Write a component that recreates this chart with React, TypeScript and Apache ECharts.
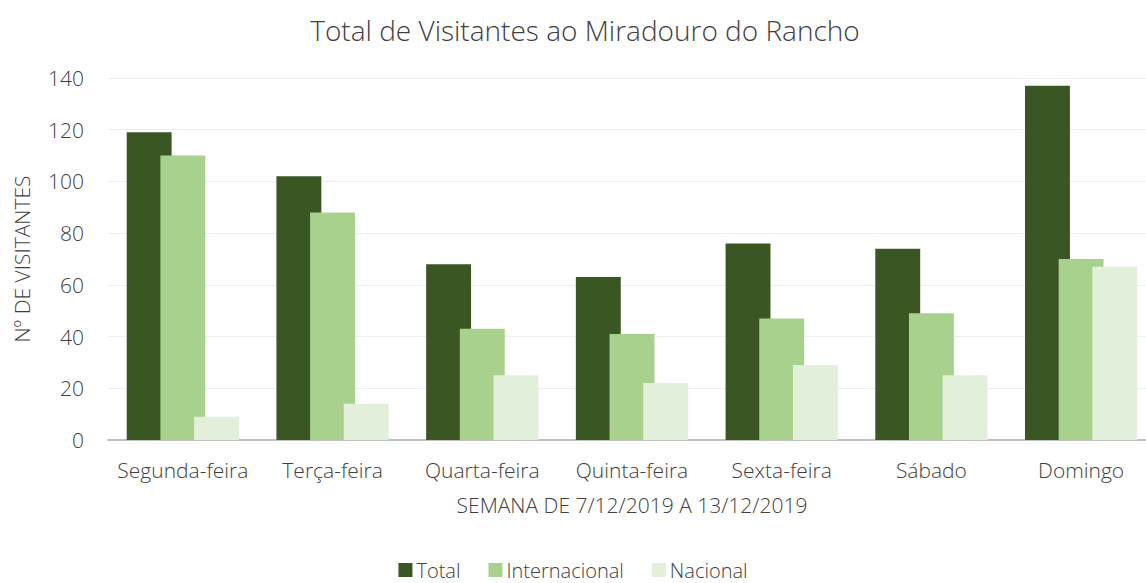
import React, { useEffect, useRef } from "react";
import * as echarts from "echarts";

const categories = ["Segunda-feira", "Terça-feira", "Quarta-feira", "Quinta-feira", "Sexta-feira", "Sábado", "Domingo"];
const totalValues = [119, 102, 68, 63, 76, 74, 137];
const internacionalValues = [110, 88, 43, 41, 47, 49, 70];
const nacionalValues = [9, 14, 25, 22, 29, 25, 67];

const FONT = "Open Sans";
const TEXT = "#404040";

export default function App() {
  const ref = useRef<HTMLDivElement>(null);
  useEffect(() => {
    document.body.style.margin = "0";
    const chart = echarts.init(ref.current!, null, { renderer: "svg" });
    chart.setOption({
      animation: false,
      backgroundColor: "#ffffff",
      title: {
        text: "Total de Visitantes ao Miradouro do Rancho",
        left: 580,
        textAlign: "center",
        top: 11,
        textStyle: { fontFamily: FONT, fontSize: 28, fontWeight: 300, color: "#404040" },
      },
      legend: {
        top: 560,
        left: "center",
        padding: 0,
        itemWidth: 14,
        itemHeight: 14,
        itemGap: 28,
        icon: "rect",
        textStyle: { fontFamily: FONT, fontSize: 20, lineHeight: 20, fontWeight: 300, color: TEXT, padding: [0, 0, 0, -1] },
      },
      grid: { left: 108, top: 78, width: 1048, height: 362, outerBoundsMode: "none", containLabel: false },
      xAxis: {
        type: "category",
        data: categories,
        name: "SEMANA DE 7/12/2019 A 13/12/2019",
        nameLocation: "middle",
        nameGap: 54,
        nameTextStyle: { fontFamily: FONT, fontSize: 21, fontWeight: 300, color: TEXT },
        axisLine: { lineStyle: { color: "#BFBFBF", width: 2 } },
        axisTick: { show: false },
        axisLabel: { interval: 0, fontFamily: FONT, fontSize: 21, fontWeight: 300, color: TEXT, margin: 19 },
      },
      yAxis: {
        type: "value",
        min: 0,
        max: 140,
        interval: 20,
        name: "Nº DE VISITANTES",
        nameLocation: "middle",
        nameGap: 76,
        nameTextStyle: { fontFamily: FONT, fontSize: 21, fontWeight: 300, color: TEXT },
        axisLine: { show: false },
        axisTick: { show: false },
        axisLabel: { fontFamily: FONT, fontSize: 21, fontWeight: 300, color: TEXT, margin: 24 },
        splitLine: { lineStyle: { color: "#EEEEEE", width: 1 } },
      },
      series: [
        { name: "Total", type: "bar", data: totalValues, barWidth: "30%", barGap: "-25%", itemStyle: { color: "#3A5623" } },
        { name: "Internacional", type: "bar", data: internacionalValues, barWidth: "30%", barGap: "-25%", itemStyle: { color: "#A9D18E" } },
        { name: "Nacional", type: "bar", data: nacionalValues, barWidth: "30%", barGap: "-25%", itemStyle: { color: "#E2EFDA" } },
      ],
    });
    return () => chart.dispose();
  }, []);
  return <div ref={ref} style={{ width: 1146, height: 583 }} />;
}
